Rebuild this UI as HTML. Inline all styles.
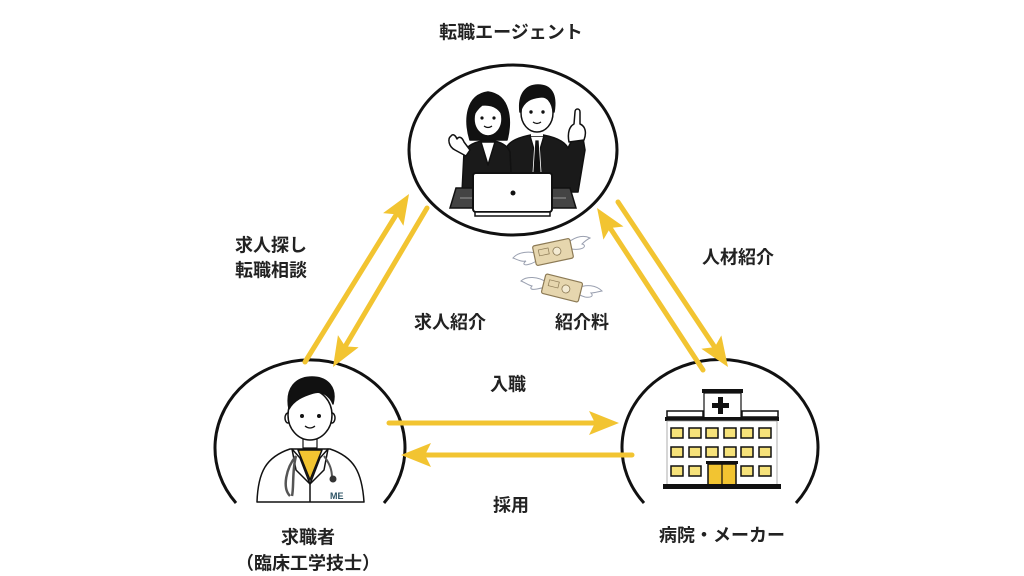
<!DOCTYPE html>
<html><head><meta charset="utf-8">
<style>
html,body{margin:0;padding:0;background:#fff;}
svg{display:block;}
text{font-family:"Liberation Sans","Noto Sans CJK JP",sans-serif;font-weight:bold;fill:#222;font-size:18px;}
</style></head>
<body>
<svg width="1024" height="576" viewBox="0 0 1024 576" xmlns="http://www.w3.org/2000/svg">
<defs>
<marker id="ah" markerUnits="userSpaceOnUse" markerWidth="32" markerHeight="26" refX="10" refY="12" orient="auto">
<path d="M0,0 L30,12 L0,24 L6,12 z" fill="#F2C431"/>
</marker>
</defs>
<rect width="1024" height="576" fill="#fff"/>

<!-- circles -->
<ellipse cx="513" cy="150" rx="104" ry="85" fill="none" stroke="#111" stroke-width="3"/>
<path d="M236,503 A95 88 0 1 1 384,503" fill="none" stroke="#111" stroke-width="3"/>
<path d="M644,503 A98 88 0 1 1 796,503" fill="none" stroke="#111" stroke-width="3"/>

<!-- arrows -->
<g stroke="#F2C431" stroke-width="5" stroke-linecap="round" fill="none" marker-end="url(#ah)">
<line x1="305" y1="362" x2="398.5" y2="211"/>
<line x1="427" y1="208" x2="343.2" y2="349.8"/>
<line x1="703" y1="370" x2="608" y2="224.7"/>
<line x1="618" y1="202" x2="716.9" y2="350.4"/>
<line x1="389" y1="423" x2="599" y2="423"/>
<line x1="632" y1="455" x2="421" y2="455"/>
</g>

<!-- top illustration: agents -->
<g stroke="#111" stroke-width="1.5" stroke-linejoin="round">
<path d="M470,140 C464,120 466,95 488,92 C510,95 512,120 507,140 Z" fill="#111"/>
<path d="M503,192 L506,148 C510,140 522,136 537,134 C552,136 564,140 568,148 L572,140 L583,138 L585,150 L578,192 Z" fill="#1a1a1a"/>
<path d="M530,136 L537,160 L544,136 Z" fill="#fff"/>
<path d="M535,140 L539,140 L541,172 L537,178 L533,172 Z" fill="#111" stroke="#fff" stroke-width="0.8"/>
<path d="M569,142 C567,132 570,126 574,124 L575,112 C575,108 580,108 580,112 L580,124 C585,126 587,132 584,140 Z" fill="#fff"/>
<rect x="531" y="122" width="12" height="14" fill="#fff" stroke="none"/>
<ellipse cx="537" cy="113" rx="16" ry="19" fill="#fff"/>
<path d="M520,112 C518,94 526,85 538,85 C551,85 557,94 554,112 C552,100 546,96 540,97 C532,98 524,100 520,112 Z" fill="#111"/>
<path d="M462,192 L464,152 C468,144 478,141 488,140 C498,141 507,144 510,152 L512,192 Z" fill="#1a1a1a"/>
<path d="M481,142 L488,165 L495,142 Z" fill="#fff"/>
<path d="M466,156 L455,150 C449,147 447,139 451,136 C453,133 456,136 457,139 C459,136 462,137 464,142 L470,150 Z" fill="#fff"/>
<ellipse cx="488" cy="119" rx="14" ry="17" fill="#fff"/>
<path d="M472,118 C470,100 478,94 488,94 C500,94 506,102 504,118 C500,108 492,104 482,105 C478,108 475,112 472,118 Z" fill="#111"/>
</g>
<g fill="#111">
<circle cx="482" cy="118" r="1.6"/><circle cx="494" cy="118" r="1.6"/>
<circle cx="531" cy="112" r="1.7"/><circle cx="543" cy="112" r="1.7"/>
</g>
<path d="M484,126 Q488,129 492,126" stroke="#111" stroke-width="1.2" fill="none"/>
<path d="M533,122 Q537,125 541,122" stroke="#111" stroke-width="1.2" fill="none"/>
<!-- laptop -->
<path d="M456,188 L570,188 L576,208 L450,208 Z" fill="#444" stroke="#111" stroke-width="1.5"/>
<line x1="460" y1="198" x2="566" y2="198" stroke="#999" stroke-width="1"/>
<rect x="473" y="173" width="79" height="39" rx="3" fill="#fff" stroke="#111" stroke-width="2"/>
<rect x="475" y="212" width="75" height="4" fill="#fff" stroke="#111" stroke-width="1.5"/>
<circle cx="513" cy="193" r="2.5" fill="#111"/>

<!-- money -->
<g stroke="#9aa0b0" stroke-width="1" fill="#fff">
<path d="M540,255 C530,250 518,252 513,258 C518,260 522,262 526,261 C522,264 524,266 530,264 C534,263 538,260 541,258 Z"/>
<path d="M566,245 C572,238 582,234 590,238 C586,240 584,242 582,244 C586,245 585,248 580,249 C575,250 570,249 566,248 Z"/>
<path d="M548,283 C538,276 526,276 521,281 C526,283 528,285 532,286 C529,289 532,290 537,289 C542,288 546,287 548,286 Z"/>
<path d="M578,288 C586,284 596,285 602,291 C597,292 594,293 591,293 C594,296 591,298 585,297 C581,296 578,294 576,292 Z"/>
</g>
<g transform="translate(553,252) rotate(-12)">
<rect x="-19" y="-10" width="38" height="20" rx="2" fill="#e6d6ae" stroke="#8c7a55" stroke-width="1.2"/>
<circle cx="4" cy="0" r="4" fill="#f3ead2" stroke="#8c7a55" stroke-width="0.8"/>
<rect x="-14" y="-5" width="10" height="6" fill="none" stroke="#8c7a55" stroke-width="0.7"/>
</g>
<g transform="translate(562,288) rotate(14)">
<rect x="-19" y="-10" width="38" height="20" rx="2" fill="#e6d6ae" stroke="#8c7a55" stroke-width="1.2"/>
<circle cx="4" cy="0" r="4" fill="#f3ead2" stroke="#8c7a55" stroke-width="0.8"/>
<rect x="-14" y="-5" width="10" height="6" fill="none" stroke="#8c7a55" stroke-width="0.7"/>
</g>

<!-- doctor -->
<g stroke="#111" stroke-width="1.5" stroke-linejoin="round">
<path d="M257,502 C258,472 266,457 290,449 L330,449 C354,457 362,472 364,502 Z" fill="#fff"/>
<path d="M298,450 L322,450 L310,480 Z" fill="#F2C431"/>
<path d="M292,449 L300,458 L310,484 L296,470 Z" fill="#fff"/>
<path d="M328,449 L320,458 L310,484 L324,470 Z" fill="#fff"/>
<line x1="310" y1="484" x2="310" y2="502"/>
<rect x="303" y="432" width="14" height="16" fill="#fff" stroke-width="1.2"/>
<ellipse cx="288" cy="418" rx="3" ry="5" fill="#fff"/>
<ellipse cx="332" cy="418" rx="3" ry="5" fill="#fff"/>
<ellipse cx="310" cy="415" rx="22" ry="25" fill="#fff"/>
<path d="M289,409 C285,388 296,377 312,377 C328,377 337,388 333,404 C330,396 322,390 313,393 C303,396 294,400 289,409 Z" fill="#111"/>
</g>
<path d="M296,456 C286,468 282,488 290,496 M296,456 C292,470 294,488 292,496" stroke="#555" stroke-width="2.5" fill="none"/>
<path d="M324,456 C330,464 332,470 332,478" stroke="#555" stroke-width="2" fill="none"/>
<circle cx="333" cy="479" r="3.5" fill="#333"/>
<circle cx="302" cy="416" r="2" fill="#111"/><circle cx="319" cy="416" r="2" fill="#111"/>
<path d="M305,426 Q310,430 315,426" stroke="#111" stroke-width="1.3" fill="none"/>
<text x="330" y="499" style="font-size:9px;fill:#2f5566" font-weight="bold">ME</text>

<!-- hospital -->
<rect x="702" y="389" width="41" height="4" fill="#111"/>
<rect x="704" y="393" width="37" height="26" fill="#fff" stroke="#111" stroke-width="1.2"/>
<path d="M718,397 h5 v6 h6 v5 h-6 v6 h-5 v-6 h-6 v-5 h6 z" fill="#111"/>
<rect x="667" y="411" width="36" height="6" fill="#fff" stroke="#111" stroke-width="1.5"/>
<rect x="742" y="411" width="36" height="6" fill="#fff" stroke="#111" stroke-width="1.5"/>
<rect x="665" y="417" width="114" height="4" fill="#111"/>
<rect x="667" y="421" width="110" height="64" fill="#fff" stroke="#999" stroke-width="0.8"/>
<g fill="#f6e27a" stroke="#111" stroke-width="1.5">
<rect x="671" y="428" width="12" height="10"/><rect x="689" y="428" width="12" height="10"/><rect x="706" y="428" width="12" height="10"/><rect x="724" y="428" width="12" height="10"/><rect x="741" y="428" width="12" height="10"/><rect x="759" y="428" width="12" height="10"/>
<rect x="671" y="447" width="12" height="10"/><rect x="689" y="447" width="12" height="10"/><rect x="706" y="447" width="12" height="10"/><rect x="724" y="447" width="12" height="10"/><rect x="741" y="447" width="12" height="10"/><rect x="759" y="447" width="12" height="10"/>
<rect x="671" y="466" width="12" height="10"/><rect x="689" y="466" width="12" height="10"/><rect x="741" y="466" width="12" height="10"/><rect x="759" y="466" width="12" height="10"/>
</g>
<rect x="706" y="461" width="32" height="3" fill="#111"/>
<rect x="708" y="464" width="28" height="21" fill="#F2C431" stroke="#111" stroke-width="1.5"/>
<line x1="722" y1="464" x2="722" y2="485" stroke="#111" stroke-width="1.2"/>
<rect x="663" y="484" width="118" height="5" fill="#111"/>

<!-- labels -->
<text x="511" y="38.5" text-anchor="middle">転職エージェント</text>
<text x="235" y="251.5">求人探し</text>
<text x="235" y="276.5">転職相談</text>
<text x="450" y="328.5" text-anchor="middle">求人紹介</text>
<text x="582" y="328.5" text-anchor="middle">紹介料</text>
<text x="738" y="263.5" text-anchor="middle">人材紹介</text>
<text x="508" y="390.5" text-anchor="middle">入職</text>
<text x="511" y="511.5" text-anchor="middle">採用</text>
<text x="308" y="543.5" text-anchor="middle">求職者</text>
<text x="308" y="569.5" text-anchor="middle">（臨床工学技士）</text>
<text x="722" y="541.5" text-anchor="middle">病院・メーカー</text>
</svg>
</body></html>
